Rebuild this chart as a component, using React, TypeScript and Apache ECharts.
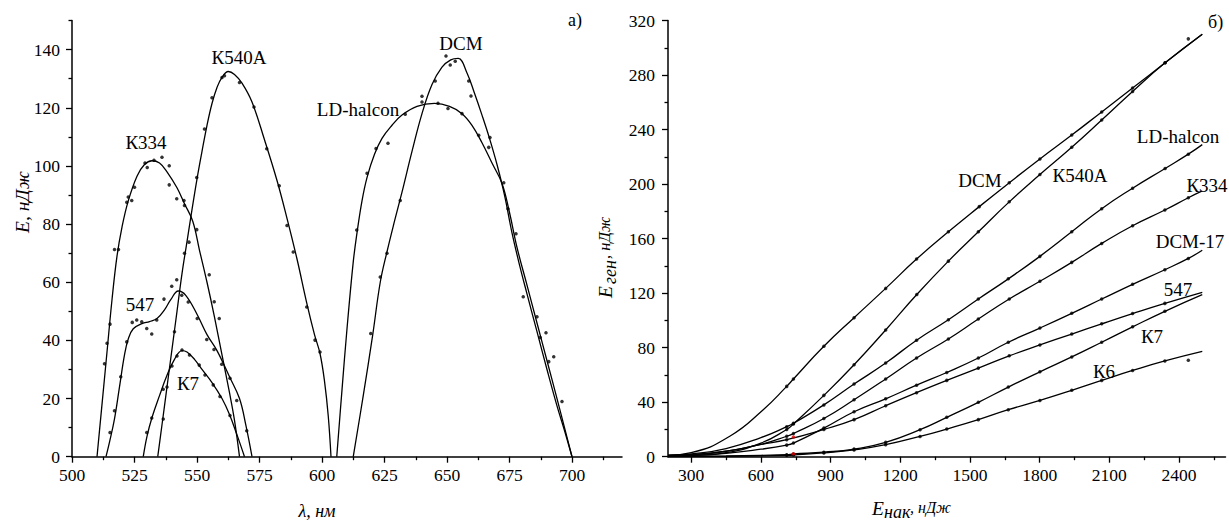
import React, { useEffect, useRef } from "react";
import * as echarts from "echarts";

// ---------- Panel а): lasing energy vs wavelength ----------
const leftXTicks = [500, 525, 550, 575, 600, 625, 650, 675, 700];
const leftXMinor = [512.5, 537.5, 562.5, 587.5, 612.5, 637.5, 662.5, 687.5, 712.5];
const leftYTicks = [0, 20, 40, 60, 80, 100, 120, 140];
const leftYMinor = [10, 30, 50, 70, 90, 110, 130, 150];

const k334Curve = [[510, 0], [512, 18], [514, 36], [516, 54], [518, 69], [520, 79], [522.5, 88], [526, 96.5], [529, 100.5], [532, 101.8], [535, 101], [538, 98], [542, 92.5], [545, 87], [548.3, 81], [551, 71], [554, 60], [557, 48], [560, 35], [563, 22], [565, 12.5], [567, 0]];
const k334Dots = [[513, 32], [514, 39], [515.2, 45.6], [517, 71.3], [518.6, 71.3], [521.9, 87.5], [522.5, 89.3], [523.9, 88.1], [525, 92.7], [529.2, 101], [530.1, 99.5], [532.8, 102], [536, 103], [538.9, 100.1], [538.9, 93.5], [541.9, 88.7], [544.8, 88.1], [545, 86.4], [549.9, 78.1], [554.9, 62.6], [556.9, 53.3], [558.9, 47.5]];

const k540aCurve = [[534.3, 0], [536, 11], [538, 24], [540, 37], [542, 50], [544, 63], [546, 74], [548, 85], [550, 95.5], [552, 105], [554, 114], [556, 121.5], [558, 127], [560, 130.5], [562.5, 132.5], [565, 131.5], [568, 128.5], [572, 122], [577, 109], [582, 95], [586, 82], [590, 68], [594, 52.5], [597, 42], [599.2, 35.5], [601, 26], [602.5, 14], [603.6, 0]];
const k540aDots = [[536.5, 13], [538, 24], [541, 43], [545, 70], [546.8, 73.8], [549.9, 96], [553, 112.7], [556, 123.5], [560, 130.4], [561, 131], [567, 128.7], [572.8, 120.3], [577.9, 105.9], [582.9, 93.2], [586, 79.5], [588.5, 70.4], [593.9, 51.5], [597.2, 40.1], [599.2, 36]];

const p547Curve = [[513.6, 0], [515, 5], [517, 13], [519, 24], [521, 35], [522.5, 40.5], [524.5, 44], [528, 45.8], [531, 46.5], [534, 47.5], [537, 50.5], [539.5, 54], [542.5, 57], [545.5, 55.5], [550, 49], [554, 42], [558, 36.5], [563, 27.5], [567, 20], [569.5, 11], [572, 0]];
const p547Dots = [[515.2, 8.3], [517, 15.8], [519.5, 27.5], [521.9, 39.5], [524.1, 46.2], [525.9, 47], [527.9, 46.4], [529.9, 44.1], [531.9, 42.2], [533.9, 47], [536.8, 54.2], [539.9, 58.6], [541.9, 60.9], [543.9, 55.5], [546.5, 53.2], [550.1, 47.5], [553.9, 40.3], [556.8, 36.9], [559.9, 31.8], [563.2, 27], [565.9, 19.3], [569.9, 8.9]];

const k7Curve = [[528.5, 0], [530, 7], [532, 13.5], [535, 21], [538, 28], [541, 33.5], [544, 36.5], [546, 36], [549, 33.5], [552, 30], [556, 25.5], [560, 20], [563, 14.5], [566, 7.5], [569, 0]];
const k7Dots = [[529.9, 8.3], [531.9, 13.3], [536.5, 23.2], [540, 31.2], [542, 34.6], [544, 36.7], [547, 35], [550.9, 31.5], [553.2, 28.1], [556.5, 24.7], [559.2, 20.7], [563.2, 14.2]];

const ldCurve = [[605.9, 0], [608, 23], [610, 44], [612.5, 67], [614, 77], [616, 88], [618, 96], [621, 104], [624, 109.5], [628, 114], [632, 117.5], [638, 120.5], [645, 121.5], [651, 120.5], [656, 118], [660, 114], [664, 108], [668, 101], [672, 94], [675, 84], [678, 72], [682, 59], [686, 46], [690, 33], [694, 20], [697, 10], [700, 0]];
const ldDots = [[613.9, 78], [618, 97.5], [621.6, 106], [626.4, 107.8], [633.3, 117.8], [646.4, 121.6], [650.4, 119.8], [656, 118], [662.7, 110.6], [666.7, 106.4], [672.7, 94.2], [677.6, 76.7], [680.5, 55], [686, 48.1], [690.7, 32.7], [696, 19]];

const dcmCurve = [[612.5, 0], [616.5, 21], [620.3, 42], [623.3, 60], [626, 70.5], [629, 81], [632, 91], [636, 105], [640, 118], [644, 128], [648, 134], [651.5, 136.5], [654.5, 137], [658, 132], [661, 125], [664, 117.5], [667, 109.5], [670, 100.5], [673, 90], [676, 77], [679, 66], [682, 56], [686, 43], [690, 30], [694, 17.5], [697, 9], [700, 0]];
const dcmDots = [[619.5, 42.4], [623.3, 61.8], [626, 70], [631.3, 88.1], [640, 122], [640, 124], [645.3, 129.2], [649.6, 137.8], [651.3, 134.7], [653.3, 136], [658.7, 129.2], [659.6, 124.1], [667.2, 109.8], [674.4, 85.3], [687.3, 41], [689.6, 42.6], [692.7, 34.4]];

// ---------- Panel б): lasing energy vs pump energy ----------
const rightXTicks = [300, 600, 900, 1200, 1500, 1800, 2100, 2400];
const rightXMinor = [450, 750, 1050, 1350, 1650, 1950, 2250, 2550];
const rightYTicks = [0, 40, 80, 120, 160, 200, 240, 280, 320];
const rightYMinor = [20, 60, 100, 140, 180, 220, 260, 300];

const dcmPump = [[200, 1], [300, 3], [466, 15], [610, 34.5], [711, 51.6], [740, 57], [871, 81], [1001, 102], [1137, 123.5], [1270, 145], [1407, 165], [1540, 183.5], [1669, 201], [1801, 218.5], [1938, 236], [2067, 253], [2200, 270.5], [2340, 289], [2500, 310]];
const k540aPump = [[200, 0.3], [300, 0.8], [450, 3], [600, 10], [711, 20], [740, 24], [871, 45], [1001, 67.5], [1137, 93], [1271, 119], [1407, 143.5], [1536, 165], [1669, 187], [1801, 207], [1938, 227], [2067, 247], [2200, 268], [2340, 289], [2500, 310]];
const ldPump = [[200, 1], [300, 2], [450, 6], [600, 14], [711, 22], [740, 24.5], [871, 38], [1001, 53.3], [1137, 68.7], [1270, 85.5], [1407, 100.5], [1536, 115.7], [1665, 130.5], [1801, 147], [1938, 165], [2067, 182], [2200, 197], [2340, 211.5], [2440, 222], [2500, 229]];
const k334Pump = [[200, 1], [300, 1.5], [450, 4], [600, 9], [711, 15], [740, 17], [871, 28], [1001, 41.8], [1137, 57], [1270, 72.4], [1407, 86.4], [1536, 101], [1669, 115.7], [1801, 128.7], [1938, 142.6], [2067, 156.5], [2200, 169.5], [2339, 181], [2440, 190], [2500, 195]];
const dcm17Pump = [[200, 0.5], [300, 1], [450, 2.5], [600, 5.5], [711, 8.5], [740, 10], [871, 21], [1001, 33], [1137, 42.5], [1270, 52.5], [1400, 61.8], [1536, 72.4], [1665, 84], [1801, 94.4], [1938, 105.2], [2067, 115.7], [2200, 126.5], [2339, 137.2], [2440, 145.5], [2500, 151.5]];
const p547Pump = [[200, 1], [300, 1.5], [450, 4], [600, 9], [711, 12.5], [871, 20], [1001, 27.2], [1137, 37.4], [1270, 47], [1400, 56], [1536, 65], [1669, 74], [1801, 82], [1938, 90], [2067, 97.5], [2200, 105], [2339, 112.5], [2500, 120.6]];
const k7Pump = [[200, 0], [300, 0.2], [450, 0.5], [600, 1], [711, 1.5], [740, 2], [871, 3.3], [1001, 5.6], [1137, 10.5], [1285, 19.8], [1400, 28.9], [1536, 39.9], [1665, 51.1], [1801, 62.3], [1938, 73.2], [2067, 84], [2200, 95.3], [2339, 106.7], [2500, 118.9]];
const k6Pump = [[200, 0], [300, 0.1], [450, 0.3], [600, 0.6], [711, 1], [740, 1.2], [871, 2.8], [1001, 5], [1137, 8.8], [1285, 14.9], [1400, 20.3], [1536, 27.2], [1665, 34.5], [1801, 41.3], [1938, 48.7], [2067, 56], [2200, 63.3], [2339, 70.3], [2500, 77.3]];
const extraPumpDots = [[2440, 306.6], [2440, 70.7]];
const redPumpDots = [[740, 14.4], [740, 2.2]];

const FONT = "Liberation Serif";
const BLACK = "#000";

function axis(kind: "x" | "y", gridIndex: number, min: number, max: number, ticks: number[], major: boolean, margin: number) {
  return {
    type: "value",
    gridIndex,
    min,
    max,
    position: kind === "x" ? "bottom" : "left",
    axisLine: { show: major, onZero: false, lineStyle: { color: BLACK, width: 1.5 } },
    axisTick: { show: true, inside: false, length: major ? 6 : 3.5, customValues: ticks, lineStyle: { color: BLACK, width: 1.3 } },
    axisLabel: {
      show: major,
      customValues: ticks,
      color: BLACK,
      fontSize: 17.5,
      fontFamily: FONT,
      margin,
      formatter: (v: number) => String(v),
    },
    splitLine: { show: false },
    minorTick: { show: false },
  };
}

function curve(data: number[][], xi: number, yi: number, smooth: number) {
  return {
    type: "line",
    xAxisIndex: xi,
    yAxisIndex: yi,
    data,
    smooth,
    symbol: "none",
    silent: true,
    lineStyle: { color: BLACK, width: 1.3 },
  };
}

function dots(data: number[][], xi: number, yi: number, color = BLACK) {
  return {
    type: "scatter",
    xAxisIndex: xi,
    yAxisIndex: yi,
    data,
    symbol: "circle",
    symbolSize: 3.5,
    silent: true,
    itemStyle: { color },
    z: 3,
  };
}

const pumpDots = (d: number[][]) => d.filter((p) => p[0] >= 700 && p[0] <= 2450);

function label(text: string, x: number, y: number, size = 19, extra: any = {}) {
  return {
    type: "text",
    x,
    y,
    silent: true,
    style: { text, fill: BLACK, fontSize: size, fontFamily: FONT, align: "center", verticalAlign: "middle", ...extra },
  };
}

export default function App() {
  const ref = useRef<HTMLDivElement>(null);
  useEffect(() => {
    if (!ref.current) return;
    const chart = echarts.init(ref.current, null, { renderer: "svg" });
    const italicLeft = { fontStyle: "italic", align: "left" };
    const L = (d: number[][]) => curve(d, 0, 0, 0.4);
    const R = (d: number[][]) => curve(d, 2, 2, 0.5);
    chart.setOption({
      animation: false,
      backgroundColor: "#fff",
      textStyle: { fontFamily: FONT },
      grid: [
        { left: 72, right: 607, top: 20.6, bottom: 68.3, containLabel: false, outerBoundsMode: "none" },
        { left: 668, right: 3.5, top: 20.6, bottom: 68.3, containLabel: false, outerBoundsMode: "none" },
      ],
      xAxis: [
        axis("x", 0, 500, 720, leftXTicks, true, 9),
        axis("x", 0, 500, 720, leftXMinor, false, 9),
        axis("x", 1, 200, 2600, rightXTicks, true, 9),
        axis("x", 1, 200, 2600, rightXMinor, false, 9),
      ],
      yAxis: [
        axis("y", 0, 0, 150, leftYTicks, true, 12),
        axis("y", 0, 0, 150, leftYMinor, false, 12),
        axis("y", 1, 0, 320, rightYTicks, true, 13),
        axis("y", 1, 0, 320, rightYMinor, false, 13),
      ],
      series: [
        L(k334Curve), dots(k334Dots, 0, 0),
        L(k540aCurve), dots(k540aDots, 0, 0),
        L(p547Curve), dots(p547Dots, 0, 0),
        L(k7Curve), dots(k7Dots, 0, 0),
        L(ldCurve), dots(ldDots, 0, 0),
        L(dcmCurve), dots(dcmDots, 0, 0),
        R(dcmPump), dots(pumpDots(dcmPump), 2, 2),
        R(k540aPump), dots(pumpDots(k540aPump), 2, 2),
        R(ldPump), dots(pumpDots(ldPump), 2, 2),
        R(k334Pump), dots(pumpDots(k334Pump), 2, 2),
        R(dcm17Pump), dots(pumpDots(dcm17Pump), 2, 2),
        R(p547Pump), dots(pumpDots(p547Pump), 2, 2),
        R(k7Pump), dots(pumpDots(k7Pump), 2, 2),
        R(k6Pump), dots(pumpDots(k6Pump), 2, 2),
        dots(extraPumpDots, 2, 2),
        dots(redPumpDots, 2, 2, "#e00000"),
      ],
      graphic: [
        // panel а) labels
        label("К334", 146, 142),
        label("К540А", 239, 57),
        label("547", 140, 304),
        label("К7", 188, 383),
        label("DCM", 461, 43),
        label("LD-halcon", 358, 109),
        label("а)", 568, 20, 18, { align: "left" }),
        // panel б) labels
        label("DCM", 980, 180),
        label("К540А", 1080, 175),
        label("LD-halcon", 1178, 136),
        label("К334", 1207, 185),
        label("DCM-17", 1190, 241),
        label("547", 1178, 289),
        label("К7", 1152, 336),
        label("К6", 1104, 371),
        label("б)", 1208, 22, 18, { align: "left" }),
        // axis names
        label("λ, нм", 317, 511, 18, { fontStyle: "italic" }),
        {
          type: "group",
          x: 22,
          y: 233,
          rotation: Math.PI / 2,
          children: [label("E, нДж", 0, 0, 19.5, italicLeft)],
        },
        label("E", 872, 508, 19.5, italicLeft),
        label("нак", 884, 512, 18, italicLeft),
        label(", нДж", 910, 507, 16, italicLeft),
        {
          type: "group",
          x: 605,
          y: 298,
          rotation: Math.PI / 2,
          children: [
            label("E", 0, 0, 19.5, italicLeft),
            label("ген", 14, 5, 18, italicLeft),
            label(", нДж", 39, -1, 16.5, italicLeft),
          ],
        },
      ],
    });
    return () => chart.dispose();
  }, []);
  return (
    <div
      ref={ref}
      style={{ position: "fixed", left: 0, top: 0, width: 1229, height: 525, background: "#fff" }}
    />
  );
}
